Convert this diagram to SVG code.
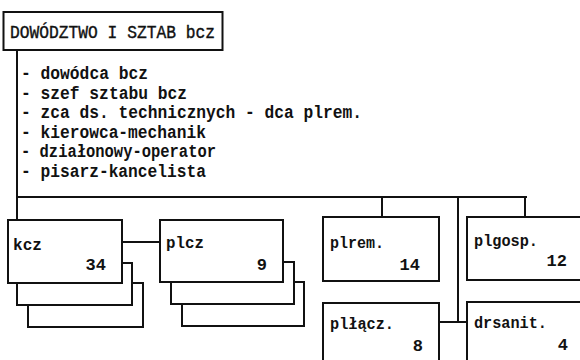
<svg xmlns="http://www.w3.org/2000/svg" width="580" height="360" viewBox="0 0 580 360">
<style>
.b{fill:#fff;stroke:#111;stroke-width:2}
.c{fill:none;stroke:#111;stroke-width:2}
text{font-family:"Liberation Mono","DejaVu Sans Mono",monospace;font-weight:bold;font-size:18px;fill:#111}
.t{font-weight:normal;stroke:#111;stroke-width:0.4}
.l{font-size:17px}
</style>
<rect width="580" height="360" fill="#fff"/>
<g id="connectors">
<path class="c" d="M17 50V220"/>
<path class="c" d="M17 197H527"/>
<path class="c" d="M382 197V217M525 197V217M458 197V322M440 322H467"/>
<path class="c" d="M122 242H160"/>
</g>
<g id="hq">
<rect class="b" x="3.5" y="12" width="219" height="38"/>
<text class="t" x="10" y="38" textLength="205" lengthAdjust="spacingAndGlyphs">DOWÓDZTWO I SZTAB bcz</text>
</g>
<g id="staff">
<text x="21" y="79" textLength="127" lengthAdjust="spacingAndGlyphs">- dowódca bcz</text>
<text x="21" y="99" textLength="166" lengthAdjust="spacingAndGlyphs">- szef sztabu bcz</text>
<text x="21" y="118" textLength="341" lengthAdjust="spacingAndGlyphs">- zca ds. technicznych - dca plrem.</text>
<text x="21" y="138" textLength="185" lengthAdjust="spacingAndGlyphs">- kierowca-mechanik</text>
<text x="21" y="157" textLength="195" lengthAdjust="spacingAndGlyphs">- działonowy-operator</text>
<text x="21" y="177" textLength="185" lengthAdjust="spacingAndGlyphs">- pisarz-kancelista</text>
</g>
<g id="kcz">
<rect class="b" x="28" y="283" width="115" height="44"/>
<rect class="b" x="17" y="263" width="115" height="42"/>
<rect class="b" x="8" y="220" width="114" height="63"/>
<text class="l" x="13" y="250" textLength="29" lengthAdjust="spacingAndGlyphs">kcz</text>
<text class="l" x="106" y="270" text-anchor="end">34</text>
</g>
<g id="plcz">
<rect class="b" x="182" y="282" width="122" height="44"/>
<rect class="b" x="171" y="262" width="123" height="42"/>
<rect class="b" x="160" y="220" width="123" height="62"/>
<text class="l" x="166" y="248" textLength="38" lengthAdjust="spacingAndGlyphs">plcz</text>
<text class="l" x="267" y="270" text-anchor="end">9</text>
</g>
<g id="plrem">
<rect class="b" x="323" y="217" width="116" height="64"/>
<text class="l" x="330" y="248" textLength="54" lengthAdjust="spacingAndGlyphs">plrem.</text>
<text class="l" x="420" y="270" text-anchor="end">14</text>
</g>
<g id="plgosp">
<rect class="b" x="467" y="217" width="120" height="63"/>
<text class="l" x="474" y="246" textLength="64" lengthAdjust="spacingAndGlyphs">plgosp.</text>
<text class="l" x="567" y="266" text-anchor="end">12</text>
</g>
<g id="plłącz">
<rect class="b" x="323" y="303" width="116" height="70"/>
<text class="l" x="330" y="329" textLength="64" lengthAdjust="spacingAndGlyphs">plłącz.</text>
<text class="l" x="423" y="351" text-anchor="end">8</text>
</g>
<g id="drsanit">
<rect class="b" x="467" y="302" width="120" height="70"/>
<text class="l" x="474" y="328" textLength="73" lengthAdjust="spacingAndGlyphs">drsanit.</text>
<text class="l" x="568" y="350" text-anchor="end">4</text>
</g>
</svg>
